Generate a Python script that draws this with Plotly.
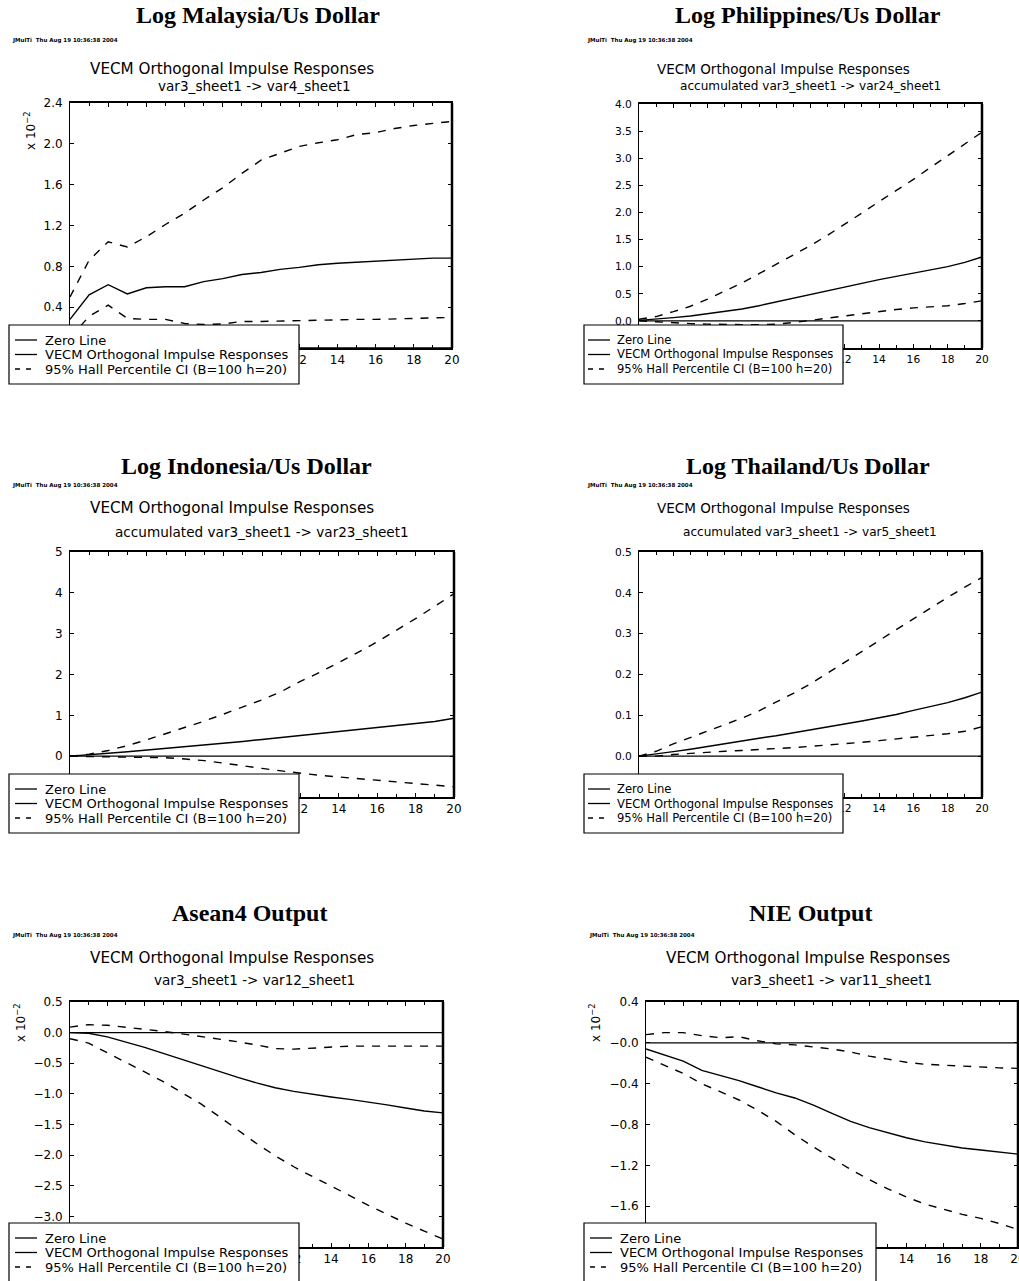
import plotly.graph_objects as go

W, H = 1019, 1281

periods = list(range(21))

titles = ["Log Malaysia/Us Dollar", "Log Philippines/Us Dollar",
          "Log Indonesia/Us Dollar", "Log Thailand/Us Dollar",
          "Asean4 Output", "NIE Output"]
header = "VECM Orthogonal Impulse Responses"
subtitles = ["var3_sheet1 -> var4_sheet1",
             "accumulated var3_sheet1 -> var24_sheet1",
             "accumulated var3_sheet1 -> var23_sheet1",
             "accumulated var3_sheet1 -> var5_sheet1",
             "var3_sheet1 -> var12_sheet1",
             "var3_sheet1 -> var11_sheet1"]
stamp = "JMulTi  Thu Aug 19 10:36:38 2004"
legend_names = ["Zero Line", "VECM Orthogonal Impulse Responses",
                "95% Hall Percentile CI (B=100 h=20)"]

# values (Malaysia, Asean4, NIE in units of 10^-2)
malaysia_irf = [0.28, 0.52, 0.62, 0.53, 0.59, 0.60, 0.60, 0.65, 0.68, 0.72, 0.74,
                0.77, 0.79, 0.815, 0.83, 0.84, 0.845, 0.855, 0.87, 0.88, 0.88]
malaysia_hi = [0.50, 0.86, 1.04, 0.99, 1.09, 1.21, 1.32, 1.45, 1.57, 1.71, 1.84,
               1.91, 1.975, 2.01, 2.04, 2.09, 2.11, 2.15, 2.18, 2.20, 2.22]
malaysia_lo = [0.10, 0.31, 0.42, 0.29, 0.28, 0.28, 0.24, 0.23, 0.235, 0.26, 0.26,
               0.265, 0.27, 0.27, 0.275, 0.28, 0.28, 0.285, 0.29, 0.295, 0.30]

philippines_irf = [0.01, 0.03, 0.06, 0.09, 0.13, 0.17, 0.22, 0.28, 0.35, 0.42, 0.49,
                   0.56, 0.63, 0.69, 0.76, 0.82, 0.88, 0.94, 1.00, 1.08, 1.18]
philippines_hi = [0.03, 0.08, 0.17, 0.27, 0.40, 0.55, 0.70, 0.87, 1.04, 1.21, 1.39,
                  1.58, 1.78, 1.99, 2.20, 2.40, 2.61, 2.83, 3.05, 3.27, 3.48]
philippines_lo = [0.0, -0.02, -0.04, -0.05, -0.06, -0.07, -0.07, -0.07, -0.06, -0.03, 0.01,
                  0.05, 0.10, 0.14, 0.18, 0.21, 0.24, 0.26, 0.28, 0.32, 0.37]

indonesia_irf = [0.0, 0.03, 0.07, 0.11, 0.15, 0.19, 0.23, 0.27, 0.31, 0.36, 0.41,
                 0.46, 0.51, 0.56, 0.61, 0.66, 0.71, 0.76, 0.80, 0.85, 0.93]
indonesia_hi = [0.0, 0.05, 0.14, 0.26, 0.40, 0.55, 0.70, 0.86, 1.03, 1.20, 1.38,
                1.58, 1.83, 2.05, 2.29, 2.54, 2.80, 3.08, 3.37, 3.67, 3.98]
indonesia_lo = [0.0, -0.01, -0.02, -0.02, -0.03, -0.04, -0.07, -0.11, -0.17, -0.24, -0.30,
                -0.36, -0.42, -0.47, -0.51, -0.55, -0.59, -0.63, -0.66, -0.70, -0.75]

thailand_irf = [0.0, 0.005, 0.011, 0.017, 0.024, 0.030, 0.037, 0.044, 0.050, 0.057, 0.064,
                0.071, 0.078, 0.086, 0.094, 0.102, 0.112, 0.121, 0.131, 0.143, 0.157]
thailand_hi = [0.0, 0.012, 0.030, 0.046, 0.061, 0.077, 0.093, 0.111, 0.132, 0.154, 0.177,
               0.203, 0.229, 0.256, 0.283, 0.310, 0.337, 0.363, 0.389, 0.414, 0.438]
thailand_lo = [0.0, 0.0, 0.004, 0.007, 0.010, 0.012, 0.014, 0.016, 0.018, 0.021, 0.024,
               0.027, 0.030, 0.034, 0.038, 0.042, 0.047, 0.051, 0.055, 0.061, 0.072]

asean_irf = [0.0, -0.01, -0.07, -0.15, -0.24, -0.34, -0.44, -0.54, -0.64, -0.73, -0.82,
             -0.90, -0.96, -1.01, -1.05, -1.09, -1.13, -1.18, -1.23, -1.28, -1.31]
asean_hi = [0.09, 0.13, 0.12, 0.09, 0.05, 0.02, -0.02, -0.06, -0.10, -0.15, -0.20,
            -0.26, -0.27, -0.25, -0.23, -0.22, -0.22, -0.22, -0.22, -0.22, -0.22]
asean_lo = [-0.10, -0.17, -0.33, -0.48, -0.64, -0.80, -0.98, -1.16, -1.37, -1.59, -1.81,
            -2.01, -2.19, -2.35, -2.50, -2.66, -2.82, -2.97, -3.11, -3.24, -3.37]

nie_irf = [-0.06, -0.12, -0.18, -0.27, -0.32, -0.37, -0.43, -0.49, -0.54, -0.61, -0.69,
           -0.77, -0.83, -0.88, -0.93, -0.97, -1.00, -1.03, -1.05, -1.07, -1.09]
nie_hi = [0.08, 0.10, 0.10, 0.07, 0.05, 0.06, 0.02, -0.01, -0.02, -0.04, -0.06,
          -0.09, -0.13, -0.16, -0.19, -0.21, -0.22, -0.23, -0.24, -0.245, -0.25]
nie_lo = [-0.14, -0.22, -0.30, -0.40, -0.48, -0.56, -0.66, -0.77, -0.90, -1.02, -1.13,
          -1.24, -1.34, -1.43, -1.51, -1.58, -1.63, -1.68, -1.72, -1.77, -1.83]

zero_line = [0.0] * len(periods)

# tick labels hidden behind the legend box in the reference are left blank
x_tickvals = [0, 2, 4, 6, 8, 10, 12, 14, 16, 18, 20]
x_ticktext = ["", "", "", "", "", "", "12", "14", "16", "18", "20"]

malaysia_ticks = [0.0, 0.4, 0.8, 1.2, 1.6, 2.0, 2.4]
malaysia_ticktext = ["", "0.4", "0.8", "1.2", "1.6", "2.0", "2.4"]
philippines_ticks = [-0.5, 0.0, 0.5, 1.0, 1.5, 2.0, 2.5, 3.0, 3.5, 4.0]
philippines_ticktext = ["", "0.0", "0.5", "1.0", "1.5", "2.0", "2.5", "3.0", "3.5", "4.0"]
indonesia_ticks = [-1, 0, 1, 2, 3, 4, 5]
indonesia_ticktext = ["", "0", "1", "2", "3", "4", "5"]
thailand_ticks = [-0.1, 0.0, 0.1, 0.2, 0.3, 0.4, 0.5]
thailand_ticktext = ["", "0.0", "0.1", "0.2", "0.3", "0.4", "0.5"]
asean_ticks = [-3.5, -3.0, -2.5, -2.0, -1.5, -1.0, -0.5, 0.0, 0.5]
asean_ticktext = ["", "\u22123.0", "\u22122.5", "\u22122.0", "\u22121.5",
                  "\u22121.0", "\u22120.5", "0.0", "0.5"]
nie_ticks = [-2.0, -1.6, -1.2, -0.8, -0.4, 0.0, 0.4]
nie_ticktext = ["", "\u22121.6", "\u22121.2", "\u22120.8", "\u22120.4", "\u22120.0", "0.4"]

panels = [
    dict(irf=malaysia_irf, hi=malaysia_hi, lo=malaysia_lo, yr=[0, 2.4],
         tv=malaysia_ticks, tt=malaysia_ticktext, scaled=True),
    dict(irf=philippines_irf, hi=philippines_hi, lo=philippines_lo, yr=[-0.5, 4.0],
         tv=philippines_ticks, tt=philippines_ticktext, scaled=False),
    dict(irf=indonesia_irf, hi=indonesia_hi, lo=indonesia_lo, yr=[-1, 5],
         tv=indonesia_ticks, tt=indonesia_ticktext, scaled=False),
    dict(irf=thailand_irf, hi=thailand_hi, lo=thailand_lo, yr=[-0.1, 0.5],
         tv=thailand_ticks, tt=thailand_ticktext, scaled=False),
    dict(irf=asean_irf, hi=asean_hi, lo=asean_lo, yr=[-3.5, 0.5],
         tv=asean_ticks, tt=asean_ticktext, scaled=True),
    dict(irf=nie_irf, hi=nie_hi, lo=nie_lo, yr=[-2.0, 0.4],
         tv=nie_ticks, tt=nie_ticktext, scaled=True),
]

# ---- layout geometry (pixels) ----
boxes = [(70, 452, 103, 348), (639, 982, 104, 348), (70, 454, 552, 797),
         (639, 982, 552, 797), (70, 443, 1002, 1247), (646, 1018, 1002, 1247)]
title_pos = [(258, 15), (808, 15), (246, 466), (808, 466), (249, 913), (810, 913)]
stamp_pos = [(10, 40), (585, 40), (10, 486), (585, 486), (10, 935), (587, 935)]
sub1_pos = [(232, 69), (783, 69), (232, 508), (783, 508), (232, 958), (808, 958)]
sub2_pos = [(255, 86), (810, 86), (262, 532), (810, 532), (255, 980), (831, 980)]
ylab_pos = [(30, 131), None, None, None, (20, 1023), (595, 1023)]
# legend box: left, top, width; scale for panels 2 and 4
legend_box = [(9, 325, 290), (584, 325, 259), (9, 774, 290), (584, 774, 259),
              (9, 1223, 290), (584, 1223, 292)]
legend_h = 59
legend_rows = [15, 29.5, 44]
fscale = [1.0, 0.89, 1.0, 0.89, 1.0, 1.0]

PX = "DejaVu Sans"
SERIF = "Liberation Serif"

fig = go.Figure()
annotations = []
shapes = []
layout = dict(width=W, height=H,
              margin=dict(l=0, r=0, t=0, b=0, pad=0, autoexpand=False),
              paper_bgcolor="white", plot_bgcolor="white", showlegend=False)

def fx(px):
    return px / W

def fy(py):
    return 1 - py / H

for i, p in enumerate(panels):
    n = i + 1
    xa = "xaxis" if n == 1 else f"xaxis{n}"
    ya = "yaxis" if n == 1 else f"yaxis{n}"
    xr = "x" if n == 1 else f"x{n}"
    yr = "y" if n == 1 else f"y{n}"
    s = fscale[i]
    x0, x1, y0, y1 = boxes[i]

    fig.add_trace(go.Scatter(x=periods, y=zero_line, mode="lines", name=legend_names[0],
                             line=dict(color="black", width=1.3), xaxis=xr, yaxis=yr,
                             hoverinfo="skip"))
    fig.add_trace(go.Scatter(x=periods, y=p["irf"], mode="lines", name=legend_names[1],
                             line=dict(color="black", width=1.4), xaxis=xr, yaxis=yr))
    fig.add_trace(go.Scatter(x=periods, y=p["hi"], mode="lines", name=legend_names[2],
                             line=dict(color="black", width=1.4, dash="8px,8px"),
                             xaxis=xr, yaxis=yr))
    fig.add_trace(go.Scatter(x=periods, y=p["lo"], mode="lines", name=legend_names[2],
                             line=dict(color="black", width=1.4, dash="8px,8px"),
                             xaxis=xr, yaxis=yr))

    layout[xa] = dict(domain=[fx(x0), fx(x1)], anchor=yr, range=[0, 20],
                      tickvals=x_tickvals, ticktext=x_ticktext,
                      ticks="inside", ticklen=4, tickcolor="black",
                      minor=dict(dtick=1, ticks="inside", ticklen=3, tickcolor="black"),
                      showline=True, linecolor="black", linewidth=2, mirror="allticks",
                      showgrid=False, zeroline=False, fixedrange=True, automargin=False,
                      ticklabeloverflow="allow",
                      tickfont=dict(family=PX, size=12 * s, color="black"))
    layout[ya] = dict(domain=[fy(y1), fy(y0)], anchor=xr, range=p["yr"],
                      tickvals=p["tv"], ticktext=p["tt"],
                      ticks="inside", ticklen=4, tickcolor="black",
                      showline=True, linecolor="black", linewidth=1, mirror="allticks",
                      showgrid=False, zeroline=False, fixedrange=True, automargin=False,
                      ticklabelstandoff=4,
                      tickfont=dict(family=PX, size=12 * s, color="black"))
    # heavier right frame
    shapes.append(dict(type="line", xref=f"{xr} domain", yref=f"{yr} domain",
                       x0=1, x1=1, y0=0, y1=1, line=dict(color="black", width=2.5),
                       layer="above"))

    # legend box (drawn like the JMulTi key: white box over the plot corner)
    L, T, LW = legend_box[i]
    shapes.append(dict(type="rect", xref="paper", yref="paper",
                       x0=fx(L), x1=fx(L + LW), y0=fy(T + legend_h), y1=fy(T),
                       fillcolor="white", line=dict(color="black", width=1.2),
                       layer="above"))
    sx0 = L + (4 if s < 1 else 6)
    sx1 = L + (26 if s < 1 else 28)
    tx0 = L + (31 if s < 1 else 34)
    dashes = ["solid", "solid", "5px,6px"]
    for k, name in enumerate(legend_names):
        ry = T + legend_rows[k]
        shapes.append(dict(type="line", xref="paper", yref="paper",
                           x0=fx(sx0), x1=fx(sx1), y0=fy(ry), y1=fy(ry),
                           line=dict(color="black", width=1.3, dash=dashes[k]),
                           layer="above"))
        annotations.append(dict(x=fx(tx0), y=fy(ry), xref="paper", yref="paper",
                                text=name, showarrow=False,
                                xanchor="left", yanchor="middle",
                                font=dict(family=PX, size=13 * s, color="black")))

    tx, ty = title_pos[i]
    annotations.append(dict(x=fx(tx), y=fy(ty), xref="paper", yref="paper",
                            text=f"<b>{titles[i]}</b>", showarrow=False,
                            xanchor="center", yanchor="middle",
                            font=dict(family=SERIF, size=24, color="black")))
    sx, sy = stamp_pos[i]
    annotations.append(dict(x=fx(sx), y=fy(sy), xref="paper", yref="paper",
                            text=f"<b>{stamp}</b>", showarrow=False,
                            xanchor="left", yanchor="middle",
                            font=dict(family=PX, size=5.5, color="black")))
    hx, hy = sub1_pos[i]
    annotations.append(dict(x=fx(hx), y=fy(hy), xref="paper", yref="paper",
                            text=header, showarrow=False,
                            xanchor="center", yanchor="middle",
                            font=dict(family=PX, size=15.2 * s, color="black")))
    bx, by = sub2_pos[i]
    annotations.append(dict(x=fx(bx), y=fy(by), xref="paper", yref="paper",
                            text=subtitles[i], showarrow=False,
                            xanchor="center", yanchor="middle",
                            font=dict(family=PX, size=13.6 * s, color="black")))
    if p["scaled"] and ylab_pos[i] is not None:
        ax, ay = ylab_pos[i]
        annotations.append(dict(x=fx(ax), y=fy(ay), xref="paper", yref="paper",
                                text="x 10<sup>\u22122</sup>", showarrow=False,
                                textangle=-90, xanchor="center", yanchor="middle",
                                font=dict(family=PX, size=12, color="black")))

layout["annotations"] = annotations
layout["shapes"] = shapes
fig.update_layout(**layout)

fig.write_html("out.html", config={"displayModeBar": False},
               post_script="document.body.style.margin='0px';"
                           "document.body.style.overflow='hidden';")
